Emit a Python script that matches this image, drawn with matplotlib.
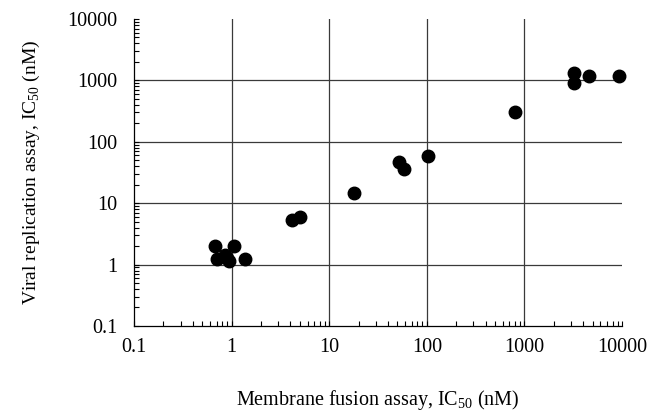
import numpy as np
import matplotlib
matplotlib.use('Agg')
import matplotlib.pyplot as plt
from matplotlib.ticker import LogLocator, NullFormatter

plt.rcParams['font.family'] = 'Liberation Serif'
plt.rcParams['mathtext.fontset'] = 'custom'
plt.rcParams['mathtext.rm'] = 'Liberation Serif'

# IC50 values (nM)
fusion_ic50 = [0.68, 1.07, 0.70, 0.85, 0.95, 0.90, 1.37,
               4.2, 5.0, 18, 52, 58, 103, 800, 3200, 3200, 4600, 9300]
replication_ic50 = [2.0, 2.0, 1.25, 1.45, 1.15, 1.3, 1.25,
                    5.4, 5.9, 14.7, 47, 36, 59, 305, 1310, 905, 1180, 1180]

tick_vals = [0.1, 1, 10, 100, 1000, 10000]
tick_labels = ['0.1', '1', '10', '100', '1000', '10000']

fig = plt.figure(figsize=(6.49, 4.13), dpi=100)
ax = fig.add_axes([0.2065, 0.2107, 0.752, 0.7433])

ax.plot(fusion_ic50, replication_ic50, 'o', color='black', markersize=9,
        zorder=3, clip_on=False)

ax.set_xscale('log')
ax.set_yscale('log')
ax.set_xlim(0.1, 10000)
ax.set_ylim(0.1, 10000)
ax.set_xticks(tick_vals, tick_labels)
ax.set_yticks(tick_vals, tick_labels)
for axis in (ax.xaxis, ax.yaxis):
    axis.set_minor_locator(LogLocator(base=10, subs=np.arange(2, 10), numticks=20))
    axis.set_minor_formatter(NullFormatter())

ax.tick_params(which='both', direction='in', length=3.5, width=0.8,
               labelsize=14.5, colors='black')
ax.tick_params(axis='x', which='major', pad=9)
ax.tick_params(axis='y', which='major', pad=12)

ax.grid(True, which='major', color='#3a3a3a', linewidth=0.9)
# no grid lines on the outer edges
for t in (ax.xaxis.get_major_ticks()[0], ax.xaxis.get_major_ticks()[-1],
          ax.yaxis.get_major_ticks()[0], ax.yaxis.get_major_ticks()[-1]):
    t.gridline.set_visible(False)

for s in ('top', 'right'):
    ax.spines[s].set_visible(False)
for s in ('left', 'bottom'):
    ax.spines[s].set_linewidth(0.9)

ax.set_xlabel(r'Membrane fusion assay, IC$_\mathregular{50}$ (nM)', fontsize=14.5,
              labelpad=22)
ax.set_ylabel(r'Viral replication assay, IC$_\mathregular{50}$ (nM)', fontsize=14,
              labelpad=18)

fig.savefig('out.png', dpi=100)
